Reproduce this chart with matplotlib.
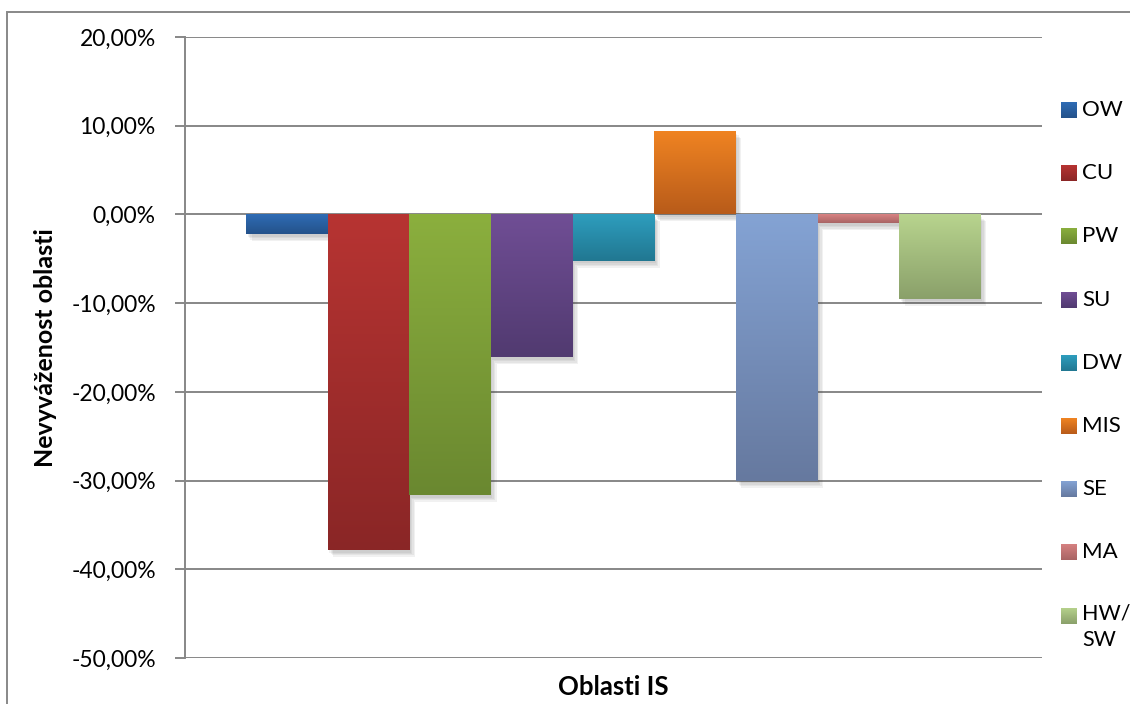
import matplotlib
matplotlib.use('Agg')

import matplotlib.pyplot as plt
import matplotlib.patheffects as pe
from matplotlib.colors import LinearSegmentedColormap
from matplotlib.patches import Rectangle
from matplotlib.ticker import FuncFormatter
import numpy as np

# data (percent)
series = ['OW', 'CU', 'PW', 'SU', 'DW', 'MIS', 'SE', 'MA', 'HW/\nSW']
values = [-2.2, -37.8, -31.6, -16.1, -5.2, 9.4, -30.0, -1.0, -9.5]

# gradient colours (top, bottom) per series
top_colors = ['#2f6cb5', '#b73432', '#8baf3e', '#704e95', '#2e9ebe',
              '#f08422', '#84a3d4', '#d98383', '#b8d48e']
bottom_colors = ['#24528a', '#8a2626', '#6a8830', '#513a70', '#217791',
                 '#b85b1a', '#66799f', '#a86464', '#8aa06a']

y_ticks = [20, 10, 0, -10, -20, -30, -40, -50]

plt.rcParams['font.family'] = ['Lato', 'DejaVu Sans']

W, H = 1130, 704
fig = plt.figure(figsize=(W / 100, H / 100), dpi=100)
ax = fig.add_axes([185 / W, 1 - 658 / H, (1042 - 185) / W, (658 - 37) / H])

n = len(series)
width = 1.0 / (n + 1.5)
xs = (np.arange(n) - (n - 1) / 2) * width

grid_color = '#878787'
ax.set_ylim(-50, 20)
ax.set_xlim(-0.5, 0.5)
ax.set_yticks(y_ticks)
ax.yaxis.grid(True, color=grid_color, linewidth=1.4)
ax.set_axisbelow(True)
ax.set_xticks([])
for s in ['top', 'right', 'bottom']:
    ax.spines[s].set_visible(False)
ax.spines['left'].set_color(grid_color)
ax.spines['left'].set_linewidth(1.4)
ax.tick_params(axis='y', length=7, width=1.4, color=grid_color,
               labelsize=16.5, pad=14)
ax.yaxis.set_major_formatter(FuncFormatter(
    lambda v, p: ('%.2f%%' % v).replace('.', ',')))

# soft shadow: a few stacked faint offsets
shadow = [pe.SimplePatchShadow(offset=(k, -k - 1), shadow_rgbFace='#404040',
                               alpha=0.07) for k in (1, 2, 3, 4)]

bars = ax.bar(xs, values, width=width, color=bottom_colors, linewidth=0,
              zorder=2)
grad = np.linspace(0, 1, 256).reshape(-1, 1)
for b, c0, c1 in zip(bars, top_colors, bottom_colors):
    b.set_path_effects(shadow + [pe.Normal()])
    x0, y0 = b.get_x(), b.get_y()
    x1, y1 = x0 + b.get_width(), y0 + b.get_height()
    lo, hi = min(y0, y1), max(y0, y1)
    cmap = LinearSegmentedColormap.from_list('g', [c0, c1])
    im = ax.imshow(grad, cmap=cmap, extent=[x0, x1, lo, hi], aspect='auto',
                   origin='upper', zorder=3, interpolation='bilinear')
    im.set_clip_path(b)

ax.set_xlim(-0.5, 0.5)
ax.set_ylim(-50, 20)

ax.set_ylabel('Nevyváženost oblasti', fontsize=18, fontweight='bold',
              labelpad=10)
ax.set_xlabel('Oblasti IS', fontsize=18.5, fontweight='bold', labelpad=12)

# legend drawn in figure pixels
for i, (name, c0, c1) in enumerate(zip(series, top_colors, bottom_colors)):
    yc = 110 + i * 63.2
    box_ax = fig.add_axes([1061 / W, 1 - (yc + 8) / H, 16 / W, 16 / H])
    box_ax.imshow(grad, cmap=LinearSegmentedColormap.from_list('g', [c0, c1]),
                  aspect='auto', extent=[0, 1, 0, 1])
    box_ax.axis('off')
    if '\n' in name:
        fig.text(1082 / W, 1 - (yc - 12) / H, name, fontsize=15.5, va='top',
                 ha='left', linespacing=1.4)
    else:
        fig.text(1082 / W, 1 - yc / H, name, fontsize=16, va='center',
                 ha='left')

# outer chart border
fig.add_artist(Rectangle((7 / W, -0.1), 1.2, 1.1 - 12 / H, transform=fig.transFigure,
                         fill=False, edgecolor='#888888', linewidth=1.4))

fig.savefig('out.png', dpi=100)
